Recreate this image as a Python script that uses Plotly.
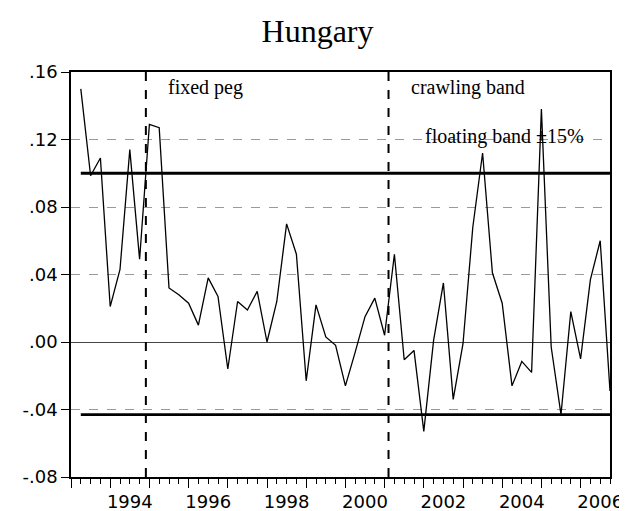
import plotly.graph_objects as go

# quarterly series, 1993Q2 .. 2006Q4
start_year, start_q = 1993, 2
values = [
    0.150, 0.0985, 0.109, 0.021, 0.043, 0.114, 0.049, 0.129, 0.127, 0.032,
    0.028, 0.023, 0.010, 0.038, 0.027, -0.016, 0.024, 0.019, 0.030, 0.000,
    0.024, 0.070, 0.052, -0.023, 0.022, 0.003, -0.002, -0.026, -0.006, 0.015,
    0.026, 0.004, 0.052, -0.0105, -0.005, -0.053, 0.001, 0.035, -0.034, -0.001,
    0.068, 0.112, 0.041, 0.023, -0.026, -0.0115, -0.018, 0.138, -0.003, -0.043,
    0.018, -0.010, 0.037, 0.060, -0.029,
]

band_x = [1993.25, 2006.75]
band_upper = [0.10, 0.10]
band_lower = [-0.043, -0.043]

regime_breaks = [1994.91, 2001.10]
regime_labels = [
    ("fixed peg", 1995.42, 0.1508),
    ("crawling band", 2001.62, 0.1508),
    ("floating band \u00b115%", 2001.98, 0.1217),
]

y_ticks = [-0.08, -0.04, 0.0, 0.04, 0.08, 0.12, 0.16]
y_text = ["-.08", "-.04", ".00", ".04", ".08", ".12", ".16"]
x_label_years = [1994, 1996, 1998, 2000, 2002, 2004, 2006]

x = []
for i in range(len(values)):
    q = start_q - 1 + i
    x.append(start_year + q // 4 + (q % 4) / 4)

fig = go.Figure()
fig.add_trace(go.Scatter(x=x, y=values, mode="lines",
                         line=dict(color="black", width=1.3), showlegend=False))
for yy in (band_upper, band_lower):
    fig.add_trace(go.Scatter(x=band_x, y=yy, mode="lines",
                             line=dict(color="black", width=2.8), showlegend=False))
# invisible trace to carry the label axis
fig.add_trace(go.Scatter(x=band_x, y=band_upper, mode="lines", xaxis="x2",
                         line=dict(width=0), hoverinfo="skip", showlegend=False))

for xb in regime_breaks:
    fig.add_shape(type="line", xref="x", yref="paper", x0=xb, x1=xb, y0=0, y1=1,
                  line=dict(color="black", width=2, dash="dash"))

for txt, ax, ay in regime_labels:
    fig.add_annotation(x=ax, y=ay, text=txt, showarrow=False, xanchor="left",
                       yanchor="middle",
                       font=dict(family="Liberation Serif", size=20, color="black"))

# page body adds an 8px offset, so the figure is sized to fit inside the window
fig.update_layout(
    width=619, height=503,
    margin=dict(l=63, r=17, t=64, b=34),
    paper_bgcolor="white", plot_bgcolor="white",
    title=dict(text="Hungary", x=0.5, xanchor="center", y=1 - 23 / 503,
               yanchor="middle", yref="container", automargin=False,
               font=dict(family="Liberation Serif", size=32, color="black")),
    xaxis=dict(
        range=[1993, 2006.75], tickvals=list(range(1993, 2007)),
        showticklabels=False, ticks="outside", ticklen=9, tickwidth=1,
        tickcolor="black", showgrid=False, zeroline=False, automargin=False,
        showline=True, mirror=True, linecolor="black", linewidth=1.5,
        minor=dict(dtick=0.25, tick0=1993, ticks="outside", ticklen=5,
                   tickcolor="black", tickwidth=1, showgrid=False),
    ),
    xaxis2=dict(
        overlaying="x", matches="x", side="bottom", anchor="y",
        tickvals=[yv + 0.5 for yv in x_label_years],
        ticktext=[str(yv) for yv in x_label_years],
        ticks="", showgrid=False, zeroline=False, showline=False,
        automargin=False, ticklabelstandoff=12,
        tickfont=dict(family="DejaVu Sans", size=18, color="black"),
    ),
    yaxis=dict(
        range=[-0.08, 0.16], tickvals=y_ticks, ticktext=y_text,
        ticks="outside", ticklen=8, tickcolor="black", tickwidth=1,
        tickfont=dict(family="DejaVu Sans", size=18, color="black"),
        showgrid=True, gridcolor="#9a9a9a", griddash="dash", gridwidth=1,
        zeroline=True, zerolinecolor="#444", zerolinewidth=1.2,
        showline=True, mirror=True, linecolor="black", linewidth=1.5,
        automargin=False,
    ),
)

fig.write_html("out.html")
